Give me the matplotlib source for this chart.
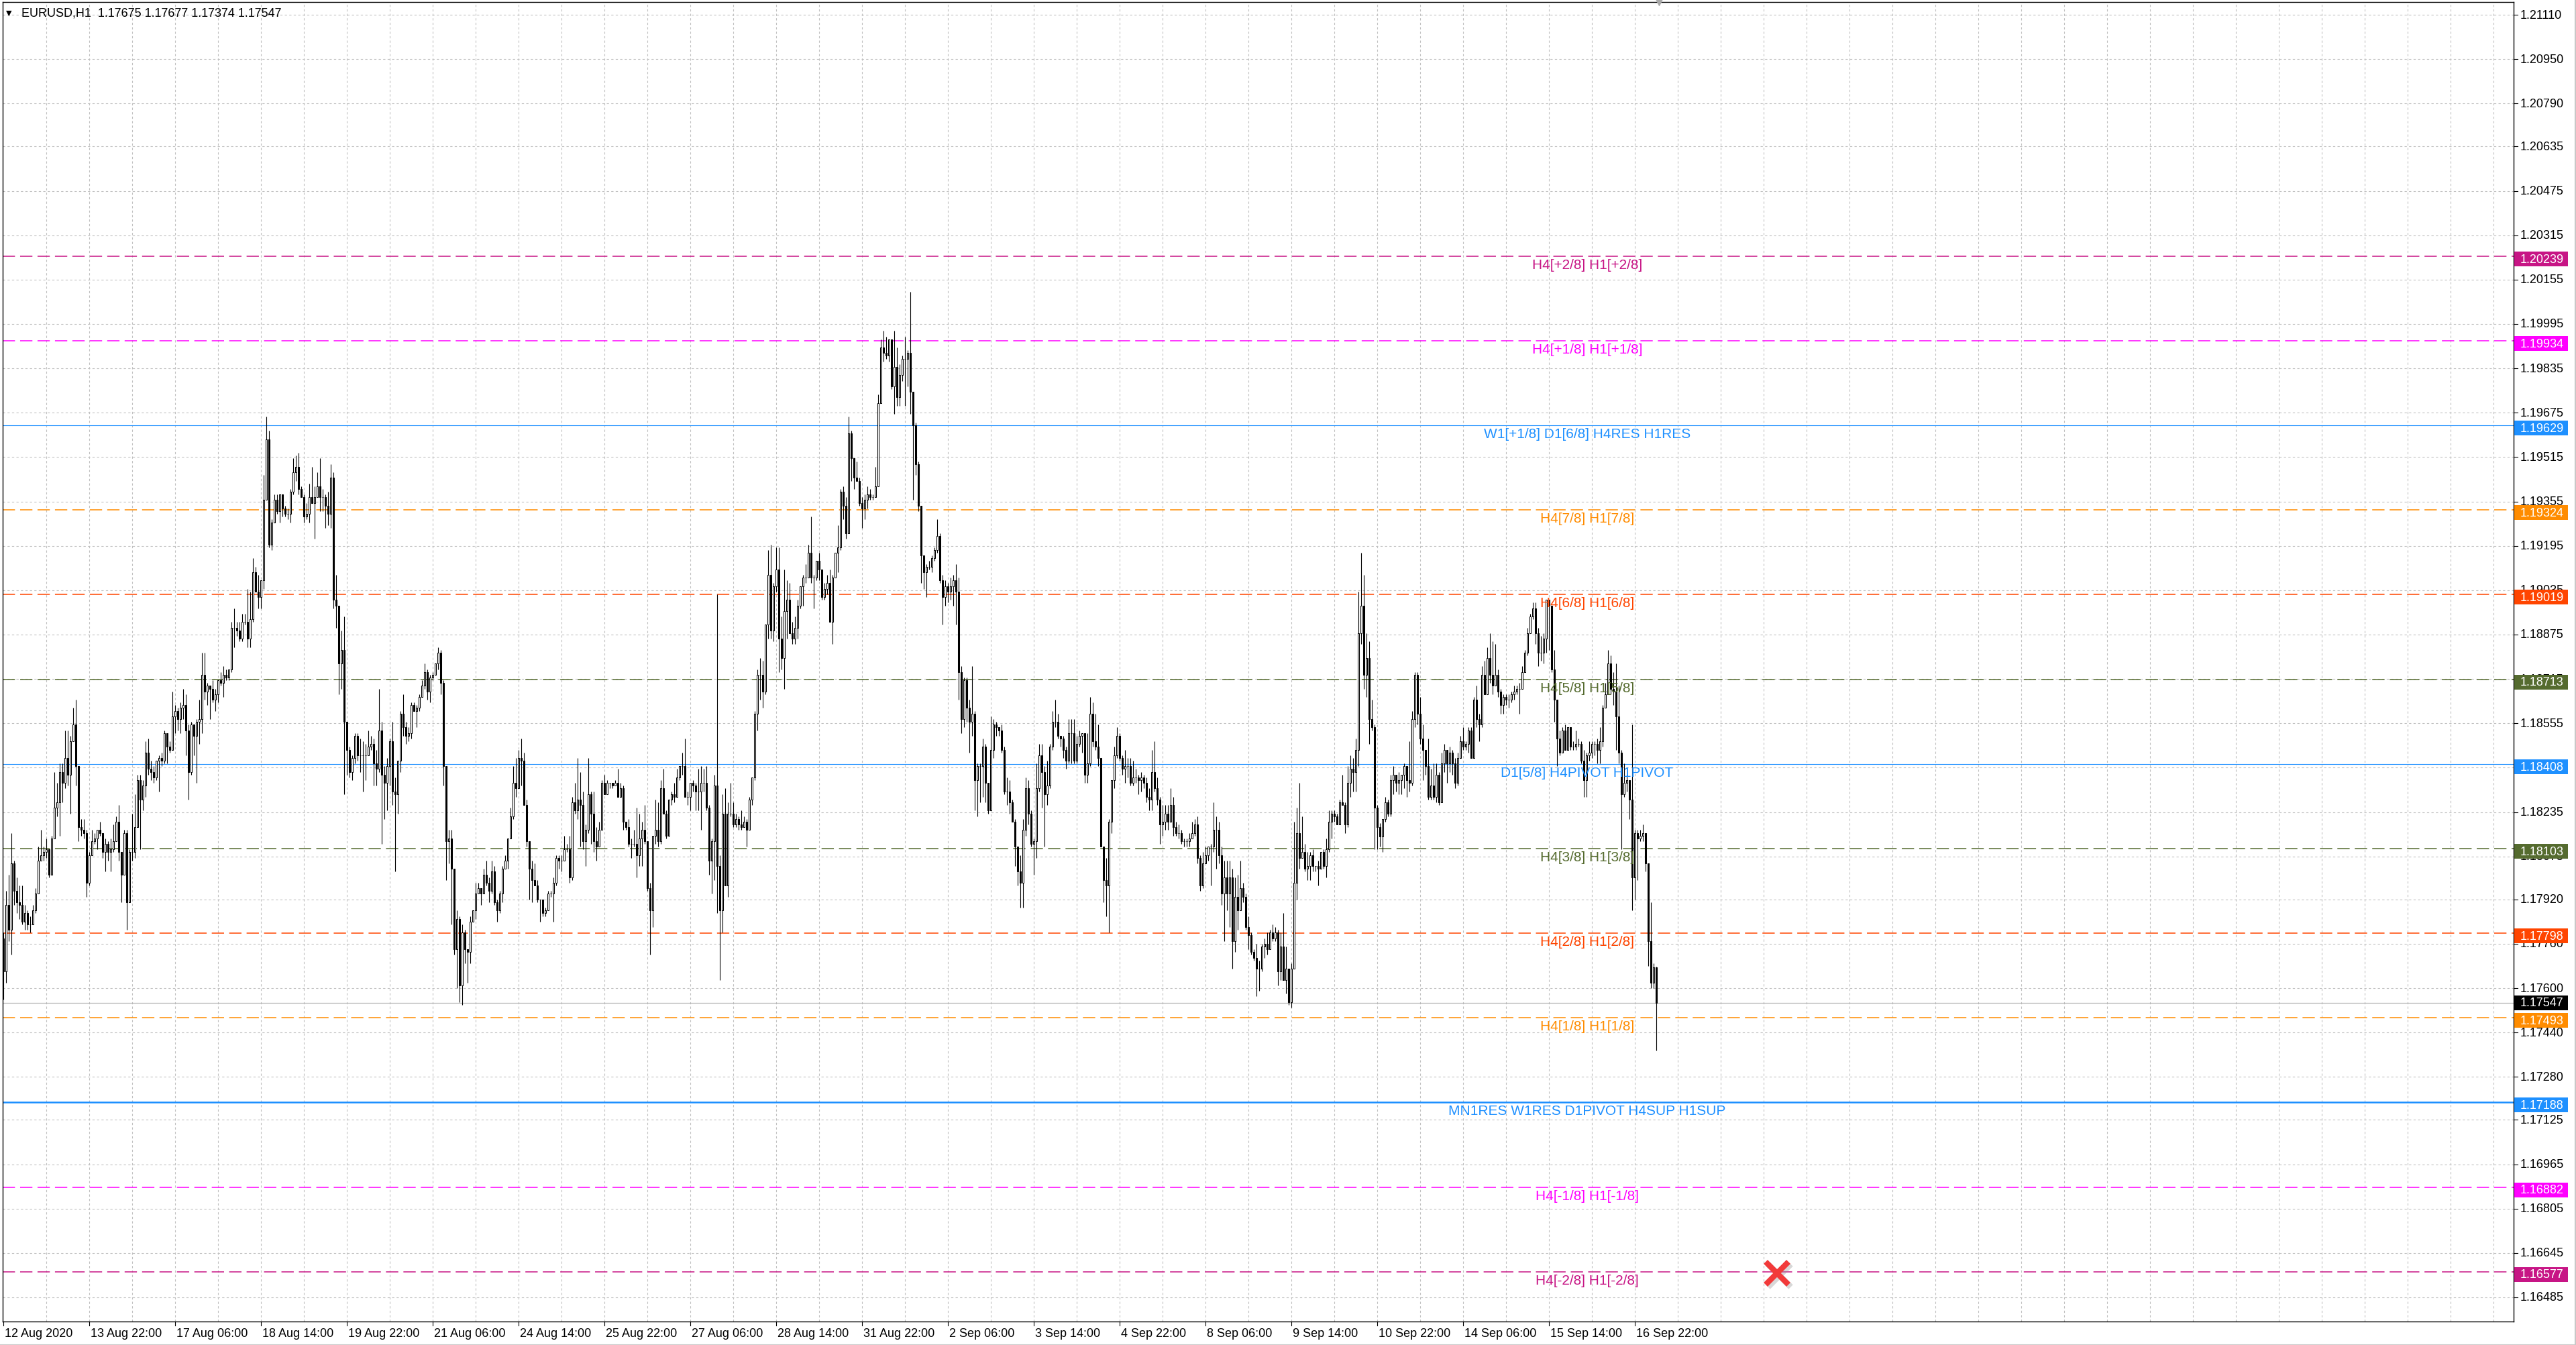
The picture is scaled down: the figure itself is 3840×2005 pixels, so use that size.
import matplotlib
matplotlib.use("Agg")
import matplotlib.pyplot as plt
from matplotlib.patches import Rectangle
from matplotlib.lines import Line2D
from matplotlib.transforms import blended_transform_factory, offset_copy

# ---------------- data ----------------
header_text = "EURUSD,H1  1.17675 1.17677 1.17374 1.17547"
base_price = 1.17000          # prices below are in pips above this base
first_open_pips = 78

close_pips = [
66, 90, 81, 105, 95, 91, 90, 84, 87, 83,
83, 88, 94, 106, 108, 109, 110, 101, 114, 125,
127, 138, 134, 143, 137, 149, 155, 140, 118, 117,
116, 98, 108, 113, 114, 117, 116, 109, 112, 109,
110, 113, 120, 109, 101, 116, 91, 109, 109, 118,
135, 128, 133, 145, 139, 138, 136, 142, 143, 142,
152, 147, 146, 158, 160, 157, 161, 162, 153, 138,
155, 151, 156, 157, 173, 167, 169, 168, 164, 166,
171, 170, 173, 172, 175, 190, 190, 189, 186, 192,
192, 186, 193, 210, 203, 201, 207, 236, 258, 220,
228, 236, 232, 238, 233, 231, 231, 239, 246, 248,
240, 237, 230, 231, 237, 235, 237, 241, 237, 237,
234, 231, 244, 200, 198, 177, 182, 156, 146, 138,
143, 151, 144, 144, 144, 144, 147, 148, 141, 139,
153, 137, 134, 140, 149, 131, 130, 142, 159, 154,
151, 152, 162, 160, 161, 165, 169, 174, 167, 172,
173, 177, 181, 170, 140, 113, 114, 103, 74, 85,
61, 80, 74, 73, 84, 88, 94, 96, 94, 101,
98, 95, 102, 91, 88, 94, 103, 106, 114, 122,
134, 132, 143, 142, 126, 113, 103, 99, 97, 92,
92, 87, 88, 94, 94, 98, 107, 106, 106, 110,
110, 100, 127, 124, 128, 126, 113, 117, 130, 123,
113, 111, 117, 134, 130, 134, 134, 133, 134, 129,
132, 120, 118, 112, 112, 112, 108, 114, 117, 113,
96, 88, 115, 117, 113, 132, 123, 115, 128, 130,
129, 136, 140, 140, 129, 129, 134, 133, 131, 131,
134, 134, 125, 106, 113, 133, 104, 88, 123, 97,
123, 123, 119, 121, 119, 118, 120, 117, 128, 136,
159, 173, 173, 167, 191, 209, 189, 205, 211, 186,
179, 196, 200, 188, 186, 190, 198, 205, 208, 208,
217, 208, 208, 214, 211, 201, 204, 206, 192, 208,
217, 219, 239, 234, 224, 260, 251, 244, 243, 235,
233, 236, 238, 237, 237, 241, 271, 291, 289, 288,
294, 277, 284, 273, 281, 287, 287, 289, 275, 263,
249, 234, 216, 210, 212, 212, 215, 218, 223, 207,
201, 205, 203, 205, 207, 203, 174, 157, 171, 161,
156, 159, 135, 140, 140, 147, 134, 124, 146, 155,
154, 153, 146, 131, 131, 127, 120, 111, 102, 98,
117, 132, 123, 112, 113, 132, 144, 138, 130, 133,
147, 156, 156, 151, 150, 146, 142, 152, 152, 142,
148, 151, 152, 137, 141, 159, 149, 147, 143, 111,
99, 97, 120, 135, 144, 151, 143, 139, 140, 140,
134, 136, 136, 135, 136, 134, 129, 128, 138, 132,
128, 119, 120, 123, 120, 126, 118, 116, 116, 113,
113, 113, 114, 116, 119, 107, 97, 105, 108, 111,
111, 117, 117, 108, 94, 100, 94, 100, 77, 93,
88, 96, 93, 82, 79, 73, 71, 67, 67, 75,
76, 74, 80, 78, 80, 66, 75, 63, 67, 55,
67, 98, 116, 107, 109, 103, 104, 108, 104, 104,
103, 109, 104, 110, 120, 123, 122, 119, 127, 126,
119, 134, 139, 138, 146, 188, 198, 173, 179, 157,
154, 125, 118, 114.6, 121, 127, 123, 135, 137, 134,
135, 137, 140, 135, 134, 157, 173, 159, 150, 146,
140, 129, 133, 129, 137, 127, 141, 146, 141, 145,
141, 134, 143, 149, 147, 148, 153, 143, 164, 157,
155, 173, 166, 179, 173, 169, 173, 167, 162, 165,
164, 164, 166, 167, 168, 168, 174, 181, 188, 194,
197, 188, 181, 181, 186, 200, 198, 175, 164, 150,
145, 153, 146, 154, 147, 147, 148, 148, 142, 135,
144, 145, 148, 148, 146, 149, 161, 166, 177, 168,
167, 158, 145, 130, 134, 135, 128, 100, 116, 114,
115, 116, 105, 77, 62, 67.5, 54.7]

high_pips = [
80, 95, 101, 116, 106, 100, 97, 97, 90, 88,
86, 90, 96, 111, 117, 111, 114, 110, 115, 138,
134, 141, 141, 153, 153, 151, 161, 164, 140, 121,
121, 117, 109, 117, 116, 117, 120, 116, 114, 113,
114, 119, 122, 126, 109, 117, 117, 110, 123, 130,
137, 137, 135, 149, 150, 142, 140, 142, 144, 145,
153, 152, 149, 167, 162, 161, 163, 168, 166, 155,
156, 155, 157, 164, 181, 181, 170, 169, 171, 168,
171, 174, 176, 175, 175, 192, 197, 192, 192, 195,
195, 204, 203, 215, 212, 209, 207, 245, 266, 261,
229, 238, 238, 238, 238, 234, 233, 240, 251, 252,
253, 241, 238, 235, 242, 248, 241, 246, 251, 240,
238, 239, 249, 246, 209, 198, 189, 194, 156, 147,
144, 152, 152, 150, 149, 148, 153, 151, 150, 146,
168, 156, 140, 143, 150, 156, 136, 142, 160, 166,
156, 154, 163, 163, 162, 166, 171, 177, 175, 173,
174, 177, 183, 182, 171, 140, 117, 117, 103, 88,
86, 83, 81, 74, 86, 88, 98, 98, 95, 103,
106, 100, 106, 104, 92, 95, 104, 108, 114, 125,
140, 143, 146, 150, 145, 128, 111, 106, 105, 99,
92, 92, 89, 95, 95, 100, 108, 108, 108, 115,
112, 115, 129, 134, 143, 138, 131, 119, 143, 131,
131, 118, 120, 135, 137, 135, 134, 134, 135, 139,
134, 133, 120, 121, 114, 117, 125, 123, 120, 126,
113, 98, 115, 128, 127, 135, 139, 124, 128, 131,
134, 139, 140, 145, 150, 131, 134, 135, 134, 139,
140, 139, 140, 126, 114, 137, 202, 108, 130, 132,
127, 134, 127, 123, 122, 124, 122, 121, 129, 136,
160, 175, 179, 178, 191, 218, 220, 206, 219, 219,
194, 211, 207, 206, 192, 194, 200, 205, 209, 213,
220, 230, 209, 214, 217, 211, 206, 209, 211, 209,
217, 227, 240, 241, 237, 266, 261, 251, 250, 244,
237, 238, 241, 240, 238, 248, 274, 294, 297, 295,
294, 294, 297, 291, 285, 288, 295, 290, 311, 275,
264, 250, 234, 216, 213, 214, 216, 219, 229, 224,
209, 207, 206, 208, 209, 213, 208, 176, 172, 172,
164, 176, 160, 141, 141, 150, 148, 134, 158, 157,
156, 154, 155, 147, 136, 135, 128, 121, 111, 108,
121, 136, 135, 124, 114, 141, 148, 148, 140, 142,
148, 160, 164, 159, 151, 151, 147, 157, 157, 157,
151, 153, 152, 152, 152, 165, 163, 159, 155, 143,
111, 107, 121, 135, 147, 154, 152, 144, 146, 143,
143, 142, 139, 137, 138, 137, 136, 132, 146, 149,
136, 129, 126, 126, 126, 132, 129, 120, 119, 117,
114, 114, 116, 120, 121, 122, 108, 109, 111, 111,
112, 127, 122, 120, 111, 106, 106, 106, 103, 100,
101, 106, 98, 94, 86, 80, 74, 76, 70, 76,
78, 80, 81, 83, 82, 81, 80, 87, 75, 67,
69, 120, 125, 134, 122, 112, 109, 109, 110, 104,
106, 109, 110, 114, 124, 124, 124, 123, 128, 137,
127, 140, 144, 143, 150, 203, 217, 209, 188, 185,
164, 155, 126, 119.4, 121, 129, 128, 137, 140, 137,
138, 137, 141, 140, 149, 160, 174, 174, 165, 155,
146, 150, 139, 141, 141, 138, 145, 148, 143, 147,
146, 143, 145, 151, 154, 149, 154, 154, 165, 169,
159, 176, 178, 183, 188, 185, 184, 175, 168, 166,
166, 166, 167, 169, 169, 170, 176, 182, 190, 195,
199, 199, 190, 187, 188, 200, 200, 198, 182, 164,
153, 154, 155, 154, 154, 149, 153, 150, 149, 146,
145, 149, 149, 149, 150, 154, 162, 170, 182, 180,
174, 177, 169, 146, 141, 137, 133, 155, 117, 117,
117, 119, 116, 105, 91, 69, 67.7]

low_pips = [
56, 62, 77, 72, 90, 87, 85, 83, 81, 81,
80, 83, 87, 94, 106, 106, 107, 100, 101, 114,
122, 115, 127, 132, 133, 123, 149, 133, 113, 115,
114, 93, 97, 108, 112, 110, 115, 107, 102, 106,
102, 109, 113, 106, 91, 101, 81, 91, 106, 107,
118, 110, 124, 129, 137, 135, 134, 135, 131, 140,
141, 141, 145, 146, 152, 153, 152, 157, 144, 128,
137, 144, 134, 148, 152, 164, 162, 157, 163, 160,
163, 169, 165, 171, 171, 174, 183, 187, 185, 185,
191, 183, 183, 192, 203, 197, 197, 204, 236, 219,
218, 228, 231, 228, 230, 230, 229, 228, 238, 243,
238, 237, 228, 229, 228, 235, 222, 237, 232, 232,
226, 227, 226, 197, 190, 166, 168, 130, 137, 136,
135, 141, 142, 138, 131, 135, 144, 146, 133, 133,
138, 112, 121, 124, 133, 126, 102, 123, 138, 151,
148, 149, 150, 160, 154, 160, 165, 168, 164, 163,
171, 173, 175, 166, 133, 99, 105, 83, 72, 60,
55, 54, 69, 62, 69, 84, 85, 94, 90, 94,
97, 91, 94, 90, 84, 87, 91, 103, 103, 114,
121, 129, 132, 133, 126, 111, 92, 91, 97, 91,
84, 86, 86, 88, 93, 84, 97, 103, 102, 106,
109, 98, 99, 123, 121, 111, 110, 104, 116, 112,
109, 106, 111, 119, 130, 130, 132, 132, 133, 129,
129, 117, 117, 111, 107, 111, 100, 104, 104, 112,
95, 72, 82, 112, 111, 112, 123, 114, 115, 126,
127, 129, 135, 137, 129, 126, 124, 131, 124, 124,
117, 131, 124, 101, 94, 99, 87, 63, 80, 97,
93, 122, 118, 118, 117, 117, 118, 111, 117, 126,
135, 153, 164, 161, 166, 186, 186, 185, 203, 174,
175, 168, 186, 188, 184, 184, 186, 197, 198, 206,
208, 206, 197, 207, 207, 200, 200, 202, 192, 184,
208, 210, 218, 229, 222, 224, 243, 240, 243, 234,
226, 229, 233, 236, 236, 237, 241, 271, 286, 287,
286, 276, 267, 270, 270, 279, 270, 277, 267, 236,
245, 232, 206, 204, 201, 211, 210, 214, 217, 206,
191, 198, 199, 200, 198, 191, 164, 152, 154, 156,
145, 151, 124, 122, 127, 129, 127, 123, 124, 143,
151, 151, 145, 130, 126, 123, 120, 104, 97, 89,
89, 115, 119, 111, 101, 107, 131, 125, 111, 126,
132, 146, 154, 150, 147, 143, 139, 141, 141, 141,
141, 147, 145, 134, 134, 140, 147, 146, 140, 111,
91, 86, 80, 116, 132, 143, 142, 137, 134, 136,
133, 133, 134, 130, 131, 132, 127, 124, 124, 131,
126, 112, 115, 117, 117, 120, 115, 115, 114, 112,
111, 111, 111, 114, 115, 105, 95, 96, 105, 106,
97, 109, 103, 105, 90, 77, 88, 82, 67, 73,
81, 88, 91, 81, 74, 72, 70, 57, 59, 66,
71, 72, 74, 77, 77, 61, 63, 63, 58, 54,
53, 67, 92, 103, 107, 102, 99, 99, 102, 102,
97, 103, 103, 100, 109, 114, 120, 119, 119, 126,
116, 118, 129, 131, 131, 140, 184, 168, 165, 148,
153, 110, 110, 111, 109, 120, 122, 122, 130, 131,
130, 130, 132, 129, 131, 133, 154, 155, 148, 135,
137, 128, 128, 128, 127, 126, 127, 138, 134, 138,
137, 132, 133, 143, 146, 146, 145, 143, 143, 154,
149, 154, 166, 166, 170, 166, 169, 165, 159, 159,
162, 161, 163, 164, 166, 159, 168, 174, 180, 188,
193, 184, 176, 178, 177, 181, 182, 174, 156, 140,
144, 145, 146, 146, 146, 146, 146, 147, 141, 129,
129, 142, 143, 144, 141, 141, 147, 161, 166, 166,
162, 146, 141, 110, 129, 131, 121, 88, 92, 99,
113, 113, 102, 68, 60, 60, 37.4]

price_ticks = [1.21110, 1.20950, 1.20790, 1.20635, 1.20475, 1.20315, 1.20155,
               1.19995, 1.19835, 1.19675, 1.19515, 1.19355, 1.19195, 1.19035,
               1.18875, 1.18715, 1.18555, 1.18395, 1.18235, 1.18075, 1.17920,
               1.17760, 1.17600, 1.17440, 1.17280, 1.17125, 1.16965, 1.16805,
               1.16645, 1.16485]
tick_labels = ["%.5f" % p for p in price_ticks]

time_labels = ["12 Aug 2020", "13 Aug 22:00", "17 Aug 06:00", "18 Aug 14:00",
               "19 Aug 22:00", "21 Aug 06:00", "24 Aug 14:00", "25 Aug 22:00",
               "27 Aug 06:00", "28 Aug 14:00", "31 Aug 22:00", "2 Sep 06:00",
               "3 Sep 14:00", "4 Sep 22:00", "8 Sep 06:00", "9 Sep 14:00",
               "10 Sep 22:00", "14 Sep 06:00", "15 Sep 14:00", "16 Sep 22:00"]
bars_per_label = 32
bars_per_grid = 16

level_prices = [1.20239, 1.19934, 1.19629, 1.19324, 1.19019, 1.18713, 1.18408,
                1.18103, 1.17798, 1.17493, 1.17188, 1.16882, 1.16577]
level_names = ["H4[+2/8] H1[+2/8]", "H4[+1/8] H1[+1/8]",
               "W1[+1/8] D1[6/8] H4RES H1RES", "H4[7/8] H1[7/8]",
               "H4[6/8] H1[6/8]", "H4[5/8] H1[5/8]", "D1[5/8] H4PIVOT H1PIVOT",
               "H4[3/8] H1[3/8]", "H4[2/8] H1[2/8]", "H4[1/8] H1[1/8]",
               "MN1RES W1RES D1PIVOT H4SUP H1SUP", "H4[-1/8] H1[-1/8]",
               "H4[-2/8] H1[-2/8]"]
level_colors = ["#C71585", "#FF00FF", "#1E90FF", "#FF8C00", "#FF4500", "#556B2F",
                "#1E90FF", "#556B2F", "#FF4500", "#FF8C00", "#1E90FF", "#FF00FF",
                "#C71585"]
level_kinds = ["dash", "dash", "solid", "dash", "dash", "dash", "solid",
               "dash", "dash", "dash", "solid_bold", "dash", "dash"]

current_price = 1.17547
signal_bar = 661
signal_price = 1.16572

# ---------------- layout ----------------
W, H, DPI = 3840, 2006, 100
PX_LEFT, PX_RIGHT, PX_TOP, PX_BOTTOM = 4, 3747, 4, 1971
Y_TOP, Y_BOTTOM = 1.211560, 1.163978
X_LEFT, X_RIGHT = -0.25, 935.5
LABEL_CENTER_BAR = 590.25
AXIS_FONT = dict(fontsize=13, family=["Liberation Sans", "DejaVu Sans"])

fig = plt.figure(figsize=(W / DPI, H / DPI), dpi=DPI, facecolor="white")
ax = fig.add_axes([PX_LEFT / W, 1 - PX_BOTTOM / H,
                   (PX_RIGHT - PX_LEFT) / W, (PX_BOTTOM - PX_TOP) / H])
ax.set_xlim(X_LEFT, X_RIGHT)
ax.set_ylim(Y_BOTTOM, Y_TOP)
ax.set_xticks([])
ax.set_yticks([])
for s in ax.spines.values():
    s.set_color("black")
    s.set_linewidth(1.0)

n = len(close_pips)
opens = [base_price + first_open_pips / 1e4] + [base_price + c / 1e4 for c in close_pips[:-1]]
closes = [base_price + c / 1e4 for c in close_pips]
highs = [max(base_price + h / 1e4, o, c) for h, o, c in zip(high_pips, opens, closes)]
lows = [min(base_price + l / 1e4, o, c) for l, o, c in zip(low_pips, opens, closes)]
xs = list(range(n))

grid_kw = dict(color="#C0C0C0", lw=0.8, ls=(0, (3, 3)), zorder=1)
for p in price_ticks:
    ax.axhline(p, **grid_kw)
g = bars_per_grid
while g < X_RIGHT:
    ax.axvline(g, **grid_kw)
    g += bars_per_grid

# level lines
for p, col, kind in zip(level_prices, level_colors, level_kinds):
    if kind == "dash":
        ax.axhline(p, color=col, lw=1.1, ls=(0, (12, 5)), zorder=2)
    elif kind == "solid":
        ax.axhline(p, color=col, lw=0.8, zorder=2)
    else:
        ax.axhline(p, color=col, lw=1.8, zorder=2)
ax.axhline(current_price, color="#B4B4B4", lw=0.9, zorder=2)

# candles
ax.vlines(xs, lows, highs, color="black", lw=0.8, zorder=3)
bottoms = [min(o, c) for o, c in zip(opens, closes)]
heights = [abs(c - o) for o, c in zip(opens, closes)]
faces = ["white" if c >= o else "black" for o, c in zip(opens, closes)]
ax.bar(xs, heights, bottom=bottoms, width=0.58, color=faces,
       edgecolor="black", linewidth=0.75, zorder=4)

# level labels
lab_tr = offset_copy(ax.transData, fig=fig, y=-3, units="dots")
for p, name, col in zip(level_prices, level_names, level_colors):
    ax.text(LABEL_CENTER_BAR, p, name, color=col, fontsize=15,
            family=["Liberation Sans", "DejaVu Sans"], ha="center", va="top",
            transform=lab_tr, zorder=6)

# signal mark
sh_tr = offset_copy(ax.transData, fig=fig, x=3, y=-3, units="dots")
ax.plot([signal_bar], [signal_price], marker="x", ms=24, mew=6.5,
        color="#909090", alpha=0.35, transform=sh_tr, zorder=6, clip_on=False)
ax.plot([signal_bar], [signal_price], marker="x", ms=24, mew=6.0,
        color="#F23A3A", zorder=7)

# chart shift marker
ax.plot([n], [Y_TOP], marker="v", ms=7, color="#A8A8A8", clip_on=False, zorder=7)

# right price axis
ytr = blended_transform_factory(fig.transFigure, ax.transData)
for p, t in zip(price_ticks, tick_labels):
    fig.add_artist(Line2D([PX_RIGHT / W, (PX_RIGHT + 6) / W], [p, p],
                          transform=ytr, color="black", lw=0.8))
    fig.text(3757 / W, p, t, transform=ytr, ha="left", va="center",
             color="black", **AXIS_FONT)

px_per_price = (PX_BOTTOM - PX_TOP) / (Y_TOP - Y_BOTTOM)
box_half = 11.0 / px_per_price
box_prices = level_prices + [current_price]
box_colors = level_colors + ["black"]
box_shift = [4.0 / px_per_price] * len(level_prices) + [0.0]
for p, col, sh in zip(box_prices, box_colors, box_shift):
    yc = p - sh
    fig.add_artist(Rectangle((3748 / W, yc - box_half), 80 / W, 2 * box_half,
                             transform=ytr, facecolor=col, edgecolor="none",
                             zorder=5))
    fig.text(3757 / W, yc, "%.5f" % p, transform=ytr, ha="left", va="center",
             color="white", zorder=6, **AXIS_FONT)

# time axis
xtr = blended_transform_factory(ax.transData, fig.transFigure)
for k, lab in enumerate(time_labels):
    bx = k * bars_per_label
    fig.add_artist(Line2D([bx, bx], [1 - PX_BOTTOM / H, 1 - (PX_BOTTOM + 6) / H],
                          transform=xtr, color="black", lw=0.8))
    fig.text(bx + 0.5, 1 - 1989 / H, lab, transform=xtr, fontsize=13,
             family="Liberation Sans", ha="left", va="center", color="black")

# header
fig.text(9 / W, 1 - 20 / H, "\u25BC", fontsize=8, family="DejaVu Sans",
         ha="left", va="center", color="black")
fig.text(32 / W, 1 - 20 / H, header_text, fontsize=13, family="Liberation Sans",
         ha="left", va="center", color="black")

# outer window edges
fig.add_artist(Line2D([0, 1], [0.5 / H, 0.5 / H], transform=fig.transFigure,
                      color="#C8C8C8", lw=1.5))
fig.add_artist(Line2D([1 - 1.5 / W, 1 - 1.5 / W], [0, 1], transform=fig.transFigure,
                      color="#C8C8C8", lw=1.5))

fig.savefig("out.png", dpi=DPI, facecolor="white")
